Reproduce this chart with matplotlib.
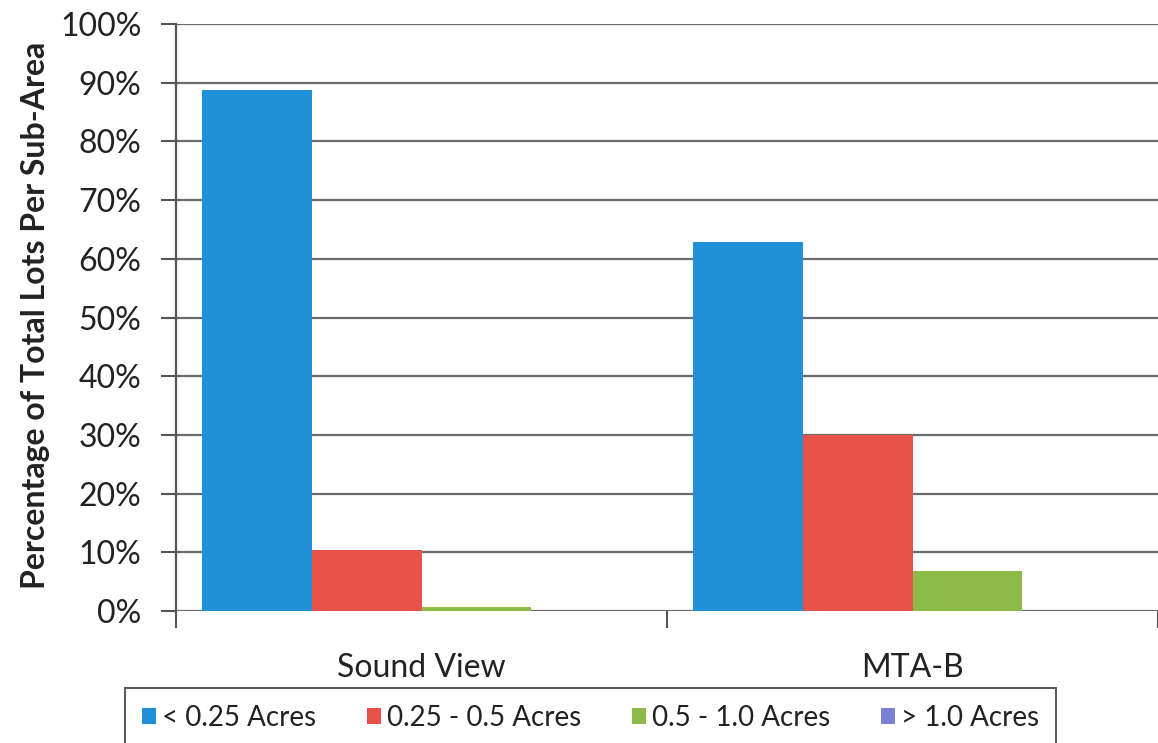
import matplotlib
matplotlib.use("Agg")
import matplotlib.pyplot as plt
import numpy as np
from matplotlib.ticker import FuncFormatter

categories = ["Sound View", "MTA-B"]
series_names = ["< 0.25 Acres", "0.25 - 0.5 Acres", "0.5 - 1.0 Acres", "> 1.0 Acres"]
lt_025 = [88.8, 62.8]
r025_05 = [10.4, 30.0]
r05_10 = [0.7, 6.8]
gt_10 = [0.0, 0.0]
values = [lt_025, r025_05, r05_10, gt_10]
colors = ["#1f8fd8", "#e8524a", "#8cba48", "#7b7fd1"]
yticks = [0, 10, 20, 30, 40, 50, 60, 70, 80, 90, 100]

plt.rcParams['font.family'] = ['Lato', 'DejaVu Sans']

W, H = 1158, 743
fig = plt.figure(figsize=(W / 100, H / 100), dpi=100)
ax = fig.add_axes([176 / W, 1 - 611 / H, (W - 176) / W, (611 - 24) / H])

x = np.arange(len(categories))
bw = 0.224
for i, (name, vals, c) in enumerate(zip(series_names, values, colors)):
    ax.bar(x + (i - 1.5) * bw, vals, width=bw, color=c, label=name, zorder=3)

ax.set_xlim(-0.5, 1.5)
ax.set_ylim(0, 100)
ax.set_yticks(yticks)
ax.yaxis.set_major_formatter(FuncFormatter(lambda v, p: f"{int(v)}%"))
ax.yaxis.grid(True, color="#6a6a6a", linewidth=1.6, zorder=0)
ax.set_axisbelow(True)

ax.set_xticks(x)
ax.set_xticklabels(categories, fontsize=23, color="#222222")
ax.tick_params(axis='x', which='major', length=0, pad=30)
ax.set_xticks([-0.5, 0.5, 1.5], minor=True)
ax.tick_params(axis='x', which='minor', length=12, width=1.5, color="#555555", direction='out')
ax.tick_params(axis='y', length=11, width=1.5, color="#555555", labelsize=23, labelcolor="#222222", pad=14)

for s in ["top", "right", "bottom"]:
    ax.spines[s].set_visible(False)
ax.spines["left"].set_color("#555555")
ax.spines["left"].set_linewidth(1.6)

fig.text(36 / W, 1 - 315 / H, "Percentage of Total Lots Per Sub-Area", rotation=90,
         ha="center", va="center", fontsize=23, fontweight="bold", color="#222222")

leg = fig.legend(loc="upper left", bbox_to_anchor=(125 / W, 1 - 688 / H), ncol=4,
                 fontsize=20, frameon=True, fancybox=False, edgecolor="#333333",
                 handlelength=0.5, handleheight=0.5, handletextpad=0.2,
                 columnspacing=1.85, borderpad=0.62, borderaxespad=0)
leg.get_frame().set_linewidth(1.5)
for t in leg.get_texts():
    t.set_color("#222222")

fig.savefig("out.png", dpi=100)
